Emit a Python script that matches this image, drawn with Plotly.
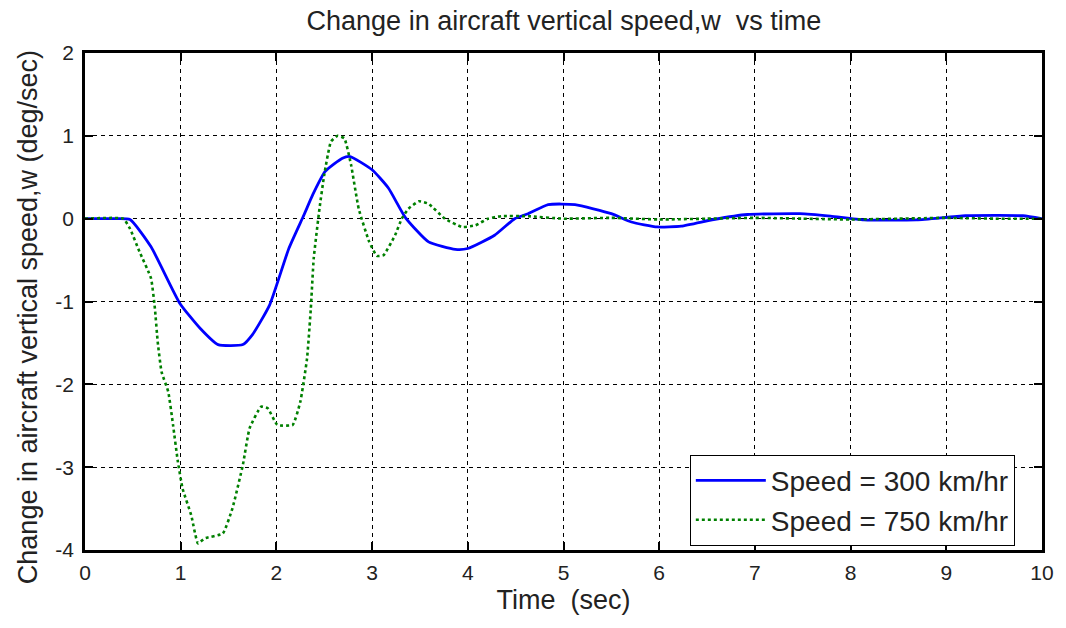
import plotly.graph_objects as go

# Vertical speed response, 300 km/hr
t_300 = [0, 0.3, 0.47, 0.69, 0.99, 1.2, 1.39, 1.65, 1.75, 1.93, 2.13, 2.29, 2.38, 2.51,
         2.69, 2.77, 3.0, 3.17, 3.35, 3.59, 3.87, 4.0, 4.28, 4.49, 4.63, 4.84, 5.12, 5.5,
         5.71, 5.98, 6.23, 6.57, 6.92, 7.47, 7.79, 8.14, 8.69, 9.2, 9.8, 10]
w_300 = [0, 0, -0.01, -0.34, -1.02, -1.32, -1.52, -1.52, -1.40, -1.04, -0.36, 0.05, 0.29, 0.57,
         0.73, 0.75, 0.59, 0.37, 0.01, -0.28, -0.37, -0.36, -0.20, 0.0, 0.06, 0.17, 0.17, 0.06,
         -0.04, -0.10, -0.09, -0.01, 0.05, 0.06, 0.03, -0.015, -0.015, 0.035, 0.035, 0.0]

# Vertical speed response, 750 km/hr
t_750 = [0, 0.4, 0.47, 0.57, 0.69, 0.73, 0.76, 0.80, 0.87, 0.92, 0.97, 1.02, 1.11, 1.18,
         1.25, 1.44, 1.54, 1.65, 1.72, 1.84, 1.91, 2.01, 2.17, 2.25, 2.32, 2.36, 2.39, 2.45,
         2.50, 2.57, 2.64, 2.71, 2.78, 2.86, 2.97, 3.05, 3.12, 3.24, 3.31, 3.38, 3.49, 3.59,
         3.76, 3.94, 4.08, 4.21, 4.35, 4.63, 5.0, 5.5, 6.0, 6.5, 7.0, 7.5, 8.0, 8.5, 9.0, 9.5, 10]
w_750 = [0, 0, -0.12, -0.40, -0.72, -1.08, -1.49, -1.85, -2.09, -2.49, -2.93, -3.26, -3.58, -3.92,
         -3.86, -3.80, -3.50, -2.97, -2.53, -2.27, -2.29, -2.49, -2.49, -2.21, -1.69, -1.08, -0.48, 0.12,
         0.53, 0.93, 1.0, 0.97, 0.65, 0.12, -0.28, -0.45, -0.44, -0.20, 0.0, 0.12, 0.21, 0.18,
         0.0, -0.10, -0.08, 0.0, 0.03, 0.03, 0.0, 0.01, -0.01, 0.0, 0.01, 0.0, -0.01, 0.0, 0.01, 0.0, 0.0]

x_ticks = list(range(0, 11))
y_ticks = [-4, -3, -2, -1, 0, 1, 2]

font_main = "Liberation Sans, Arial, sans-serif"
text_color = "#222"

fig = go.Figure()
fig.add_trace(go.Scatter(x=t_300, y=w_300, mode="lines", name="Speed = 300 km/hr",
                         line=dict(color="#0000ff", width=2.8, shape="spline", smoothing=0.5)))
fig.add_trace(go.Scatter(x=t_750, y=w_750, mode="lines", name="Speed = 750 km/hr",
                         line=dict(color="#008000", width=2.6, dash="dot", shape="spline", smoothing=0.4)))

axis_common = dict(
    showline=True, linecolor="black", linewidth=2.5, mirror="ticks",
    ticks="inside", ticklen=8, tickwidth=2, tickcolor="black",
    showgrid=True, gridcolor="black", gridwidth=1, griddash="4px,4px",
    zeroline=False, tickfont=dict(family=font_main, size=21, color=text_color),
)

fig.update_xaxes(range=[0, 10], tickvals=x_ticks, ticktext=[str(v) for v in x_ticks],
                 ticklabelstandoff=2,
                 title=dict(text="Time  (sec)", font=dict(family=font_main, size=27, color=text_color),
                            standoff=8),
                 **axis_common)
fig.update_yaxes(range=[-4, 2], tickvals=y_ticks, ticktext=[str(v) for v in y_ticks],
                 ticklabelstandoff=4, **axis_common)

# Vertical axis label, placed as rotated text beside the tick labels
fig.add_annotation(text="Change in aircraft vertical speed,w (deg/sec)",
                   xref="paper", yref="paper", x=-0.0593, y=0.469,
                   xanchor="center", yanchor="middle", textangle=-90, showarrow=False,
                   font=dict(family=font_main, size=27, color=text_color))

fig.update_layout(
    width=1066, height=628,
    margin=dict(l=85, r=20, t=53, b=78),
    paper_bgcolor="white", plot_bgcolor="white",
    title=dict(text="Change in aircraft vertical speed,w  vs time", x=0.529, xanchor="center",
               y=0.967, yanchor="middle",
               font=dict(family=font_main, size=27, color=text_color)),
    legend=dict(x=0.632, y=0.192, xanchor="left", yanchor="top",
                bgcolor="white", bordercolor="black", borderwidth=1,
                font=dict(family=font_main, size=28, color=text_color), itemwidth=70,
                tracegroupgap=0),
    showlegend=True,
)

fig.write_html("out.html")
